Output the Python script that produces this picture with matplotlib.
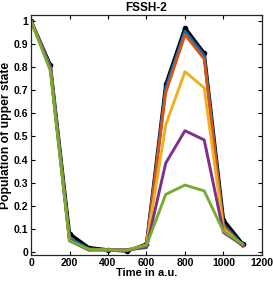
import matplotlib
matplotlib.use("Agg")
import matplotlib.pyplot as plt

plt.rcParams['font.family'] = ['Liberation Sans', 'DejaVu Sans']
plt.rcParams['font.weight'] = 'bold'

t = [0, 100, 200, 300, 400, 500, 600, 700, 800, 900, 1000, 1100]

exact  = [1.0, 0.81, 0.08, 0.02, 0.01, 0.005, 0.035, 0.725, 0.97, 0.86, 0.14, 0.035]
run_b  = [1.0, 0.80, 0.06, 0.015, 0.01, 0.01, 0.03, 0.71, 0.955, 0.85, 0.12, 0.03]
run_r  = [1.0, 0.80, 0.05, 0.01, 0.01, 0.01, 0.03, 0.69, 0.94, 0.835, 0.11, 0.025]
run_y  = [1.0, 0.80, 0.05, 0.01, 0.01, 0.01, 0.03, 0.55, 0.78, 0.71, 0.10, 0.03]
run_p  = [1.0, 0.80, 0.05, 0.01, 0.01, 0.01, 0.02, 0.385, 0.525, 0.485, 0.085, 0.03]
run_g  = [1.0, 0.785, 0.05, 0.012, 0.01, 0.008, 0.03, 0.25, 0.29, 0.265, 0.09, 0.035]

runs   = [run_b, run_r, run_y, run_p, run_g]
colors = ['#0072BD', '#D95319', '#EDB120', '#7E2F8E', '#77AC30']

fig = plt.figure(figsize=(2.73, 2.83), dpi=100)
ax = fig.add_axes([0.1136, 0.099, 0.846, 0.848])

ax.plot(t, exact, color='black', lw=2.4, marker='.', ms=6)
for y, c in zip(runs, colors):
    ax.plot(t, y, color=c, lw=2.1)

ax.set_xlim(0, 1200)
ax.set_ylim(-0.012, 1.025)
ax.set_xticks(range(0, 1201, 200))
ax.set_yticks([i / 10 for i in range(11)])
ax.set_yticklabels(['0', '0.1', '0.2', '0.3', '0.4', '0.5', '0.6', '0.7', '0.8', '0.9', '1'])
ax.tick_params(direction='in', top=True, right=True, labelsize=7.5, length=3, width=0.8, pad=2)
for s in ax.spines.values():
    s.set_linewidth(0.9)
    s.set_color('#262626')

ax.set_title('FSSH-2', fontsize=8.5, fontweight='bold', pad=3)
ax.set_xlabel('Time in a.u.', fontsize=8, fontweight='bold', labelpad=0)
ax.set_ylabel('Population of upper state', fontsize=8.7, fontweight='bold', labelpad=1)

fig.savefig('out.png', dpi=100)
